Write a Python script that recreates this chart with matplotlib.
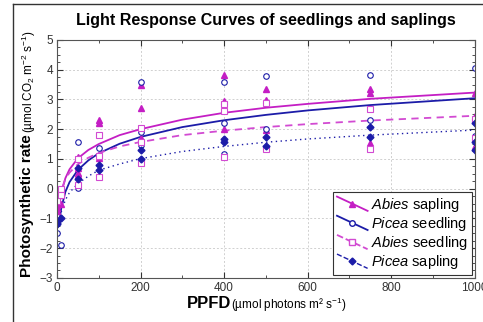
import numpy as np
import matplotlib
matplotlib.use("Agg")
import matplotlib.pyplot as plt
from matplotlib.lines import Line2D
from matplotlib.legend_handler import HandlerBase

plt.rcParams['font.family'] = ['Liberation Sans', 'DejaVu Sans']
plt.rcParams['mathtext.fontset'] = 'custom'
plt.rcParams['mathtext.rm'] = 'Liberation Sans'
plt.rcParams['mathtext.it'] = 'Liberation Sans:italic'
plt.rcParams['mathtext.bf'] = 'Liberation Sans:bold'

# measured points (PPFD, photosynthetic rate)
abies_sapling_x = [0, 0, 0, 10, 50, 50, 50, 50, 100, 100, 100, 200, 200, 200,
                   400, 400, 400, 500, 500, 500, 750, 750, 750, 1000, 1000, 1000]
abies_sapling_y = [-0.55, -0.65, -0.75, -0.5, 1.08, 0.69, 0.52, 0.45, 2.31, 2.22, 1.02,
                   3.49, 2.72, 1.7, 3.82, 2.96, 2.0, 3.34, 2.97, 1.97, 3.34, 3.23, 1.53,
                   3.23, 2.45, 1.45]

picea_seedling_x = [0, 10, 50, 50, 100, 200, 200, 200, 400, 400, 400,
                    500, 500, 750, 750, 1000, 1000]
picea_seedling_y = [-1.5, -1.9, 1.58, 0.02, 1.37, 3.6, 1.92, 1.47, 3.57, 2.22, 1.16,
                    3.8, 2.02, 3.82, 2.31, 4.07, 1.77]

abies_seedling_x = [0, 10, 10, 50, 50, 100, 100, 100, 200, 200, 200, 400, 400, 400,
                    500, 500, 750, 750, 1000, 1000]
abies_seedling_y = [-0.4, -0.02, -0.21, 0.99, 0.13, 1.81, 1.1, 0.4, 2.05, 1.58, 0.86,
                    2.85, 2.62, 1.06, 2.87, 1.33, 2.67, 1.33, 2.35, 1.7]

picea_sapling_x = [0, 0, 0, 10, 50, 50, 100, 100, 200, 200, 400, 400,
                   500, 500, 750, 750, 1000, 1000, 1000]
picea_sapling_y = [-1.1, -1.15, -1.2, -1.0, 0.69, 0.32, 0.8, 0.64, 1.3, 1.0, 1.66, 1.56,
                   1.73, 1.45, 2.07, 1.75, 2.2, 1.58, 1.3]

# fitted curves
curve_x = [6, 10, 20, 30, 50, 75, 100, 150, 200, 300, 400, 500, 600, 750, 1000]
abies_sapling_fit = [-0.54, -0.16, 0.35, 0.65, 1.02, 1.3, 1.5, 1.8, 2.0, 2.32, 2.55,
                     2.72, 2.85, 3.02, 3.23]
picea_seedling_fit = [-1.08, -0.67, -0.11, 0.22, 0.63, 0.95, 1.19, 1.51, 1.74, 2.07,
                      2.3, 2.48, 2.63, 2.81, 3.04]
abies_seedling_fit = [-0.34, -0.06, 0.32, 0.54, 0.82, 1.04, 1.2, 1.42, 1.57, 1.8,
                      1.95, 2.07, 2.17, 2.29, 2.45]
picea_sapling_fit = [-1.1, -0.79, -0.38, -0.13, 0.17, 0.42, 0.62, 0.83, 1.01, 1.25,
                     1.42, 1.56, 1.67, 1.8, 1.97]

magenta = '#c41ec4'
magenta_light = '#d24ad2'
blue = '#1c1ca8'


class DiagHandler(HandlerBase):
    # slanted legend keys, line with the marker in the middle
    def create_artists(self, legend, orig_handle, xdescent, ydescent,
                       width, height, fontsize, trans):
        x0, x1 = -xdescent, -xdescent + width
        y0, y1 = -ydescent + height * 1.2, -ydescent - height * 0.2
        ln = Line2D([x0, x1], [y0, y1], color=orig_handle.get_color(),
                    linestyle=orig_handle.get_linestyle(),
                    linewidth=orig_handle.get_linewidth())
        mk = Line2D([(x0 + x1) / 2], [(y0 + y1) / 2], linestyle='none',
                    marker=orig_handle.get_marker(),
                    markersize=orig_handle.get_markersize(),
                    markerfacecolor=orig_handle.get_markerfacecolor(),
                    markeredgecolor=orig_handle.get_markeredgecolor())
        ln.set_transform(trans)
        mk.set_transform(trans)
        return [ln, mk]


fig = plt.figure(figsize=(4.83, 3.22), dpi=100)
ax = fig.add_axes([0.118, 0.137, 0.865, 0.739])

ax.plot(curve_x, abies_sapling_fit, color=magenta, lw=1.3, ls='-')
ax.plot(curve_x, picea_seedling_fit, color=blue, lw=1.3, ls='-')
ax.plot(curve_x, abies_seedling_fit, color=magenta_light, lw=1.3, ls=(0, (4, 3)))
ax.plot(curve_x[1:], picea_sapling_fit[1:], color=blue, lw=1.0, ls=(0, (1, 2.5)))

ax.plot(abies_sapling_x, abies_sapling_y, ls='none', marker='^', ms=5,
        mfc=magenta, mec=magenta)
ax.plot(picea_seedling_x, picea_seedling_y, ls='none', marker='o', ms=4,
        mfc='white', mec=blue, mew=0.8)
ax.plot(abies_seedling_x, abies_seedling_y, ls='none', marker='s', ms=5,
        mfc='white', mec=magenta_light, mew=0.8)
ax.plot(picea_sapling_x, picea_sapling_y, ls='none', marker='D', ms=3.5,
        mfc=blue, mec=blue)

ax.set_xlim(0, 1000)
ax.set_ylim(-3, 5)
ax.set_xticks(np.arange(0, 1001, 200))
ax.set_yticks(np.arange(-3, 6, 1))
ax.set_xticks(np.arange(0, 1001, 100), minor=True)
ax.set_yticks(np.arange(-3, 5.01, 0.25), minor=True)
ax.tick_params(which='both', direction='in', top=True, right=True,
               labelsize=8.5, colors='#333333', labelcolor='#333333')
ax.tick_params(which='major', length=4, pad=3)
ax.tick_params(which='minor', length=2)
ax.grid(True, which='major', color='#d0d0d0', ls=(0, (2, 2)), lw=0.7)
for s in ax.spines.values():
    s.set_color('#555555')
    s.set_linewidth(0.8)

ax.set_title('Light Response Curves of seedlings and saplings',
             fontsize=11.5, fontweight='bold', pad=11)

# legend
handles = [
    Line2D([], [], color=magenta, lw=1.3, ls='-', marker='^', ms=5,
           mfc=magenta, mec=magenta),
    Line2D([], [], color=blue, lw=1.3, ls='-', marker='o', ms=4,
           mfc='white', mec=blue),
    Line2D([], [], color=magenta_light, lw=1.3, ls=(0, (2, 2)), marker='s', ms=5,
           mfc='white', mec=magenta_light),
    Line2D([], [], color=blue, lw=1.0, ls=(0, (1, 2)), marker='D', ms=3.5,
           mfc=blue, mec=blue),
]
labels = ['$\\it{Abies}$ sapling', '$\\it{Picea}$ seedling',
          '$\\it{Abies}$ seedling', '$\\it{Picea}$ sapling']
leg = ax.legend(handles, labels, loc='lower right', fontsize=10.5,
                handler_map={h: DiagHandler() for h in handles},
                handlelength=2.1, handletextpad=0.25, labelspacing=0.08,
                borderpad=0.25, borderaxespad=0.2, fancybox=False,
                framealpha=1, edgecolor='#333333')
leg.get_frame().set_linewidth(0.8)

# axis labels with mixed weights
fig.canvas.draw()
r = fig.canvas.get_renderer()
W, H = fig.bbox.width, fig.bbox.height

yb = fig.text(27 / W, 1 - 277 / H, 'Photosynthetic rate', rotation=90,
              fontsize=11, fontweight='bold', ha='center', va='bottom')
ext = yb.get_window_extent(r)
fig.text(29 / W, ext.y1 / H + 0.005, '(µmol CO$_2$ m$^{-2}$ s$^{-1}$)', rotation=90,
         fontsize=8.5, ha='center', va='bottom')

xb = fig.text(187 / W, 1 - 304 / H, 'PPFD', fontsize=12, fontweight='bold',
              ha='left', va='center')
ext = xb.get_window_extent(r)
fig.text(ext.x1 / W, 1 - 305 / H, '(µmol photons m² s$^{-1}$)', fontsize=8.5,
         ha='left', va='center')

# border of the original image
fig.add_artist(Line2D([13 / W, 13 / W], [0, 1 - 4 / H], color='#333333', lw=1.0))
fig.add_artist(Line2D([13 / W, 1], [1 - 4 / H, 1 - 4 / H], color='#333333', lw=1.0))

fig.savefig('out.png', dpi=100)
